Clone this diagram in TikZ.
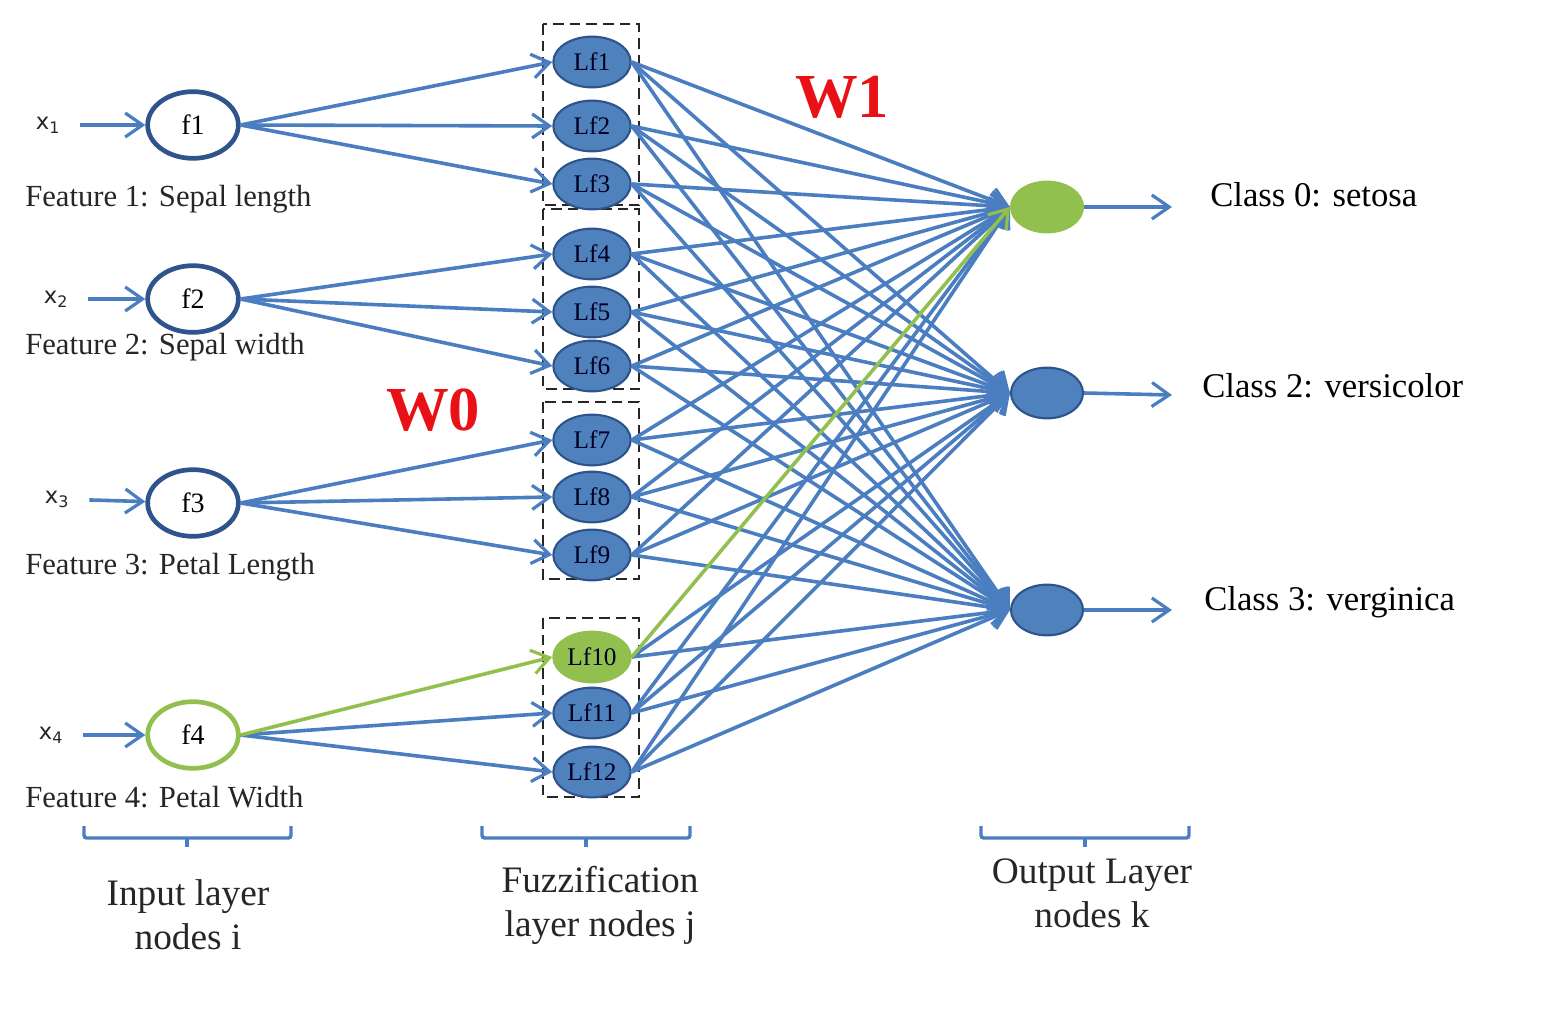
\documentclass[tikz,border=0pt]{standalone}
\usepackage{fontspec}
\setmainfont{Liberation Serif}
\setsansfont{DejaVu Sans}
\usepackage{tikz}
\usetikzlibrary{arrows.meta,shapes,positioning}

\definecolor{lineblue}{RGB}{74,126,192}
\definecolor{nodeblue}{RGB}{79,129,189}
\definecolor{edgeblue}{RGB}{47,84,140}
\definecolor{leafgreen}{RGB}{146,192,78}
\definecolor{wred}{RGB}{232,18,22}

\begin{document}
\begin{tikzpicture}[x=0.75pt,y=0.75pt,yscale=-1,xscale=1,
  link/.style={draw=lineblue,line width=2.7pt,-{Straight Barb[length=13pt,width=18pt,line width=2.4pt]}},
  greenlink/.style={link,draw=leafgreen},
  feat/.style={ellipse,draw=edgeblue,line width=3.5pt,minimum width=68pt,minimum height=50pt,inner sep=0pt,font=\fontsize{21}{24}\selectfont},
  fuzz/.style={ellipse,fill=nodeblue,draw=edgeblue,line width=1.6pt,minimum width=58pt,minimum height=38pt,inner sep=0pt,text=black!85!blue,font=\fontsize{19}{22}\selectfont},
  outn/.style={ellipse,fill=nodeblue,draw=edgeblue,line width=1.6pt,minimum width=54pt,minimum height=38pt,inner sep=0pt},
  label/.style={font=\fontsize{23}{26}\selectfont,text=black!85,anchor=west,inner sep=0pt},
  xlab/.style={font=\sffamily\fontsize{17}{19}\selectfont,text=black!85,inner sep=0pt},
  classlab/.style={font=\fontsize{26}{30}\selectfont,anchor=west,inner sep=0pt},
  layerlab/.style={font=\fontsize{28}{33}\selectfont,align=center,text=black!85,inner sep=0pt},
  group/.style={draw=black!85,line width=1.5pt,dash pattern=on 8pt off 4.5pt},
  brace/.style={draw=lineblue,line width=2.6pt,rounded corners=2pt},
  wlab/.style={font=\bfseries\fontsize{47}{50}\selectfont,text=wred,inner sep=0pt}]
\path[use as bounding box] (0,0) rectangle (1550,1020);

% Groups of the fuzzification layer
\draw[group] (543,24) rectangle (639,205);
\draw[group] (543,209) rectangle (639,389);
\draw[group] (543,402) rectangle (639,579);
\draw[group] (543,618) rectangle (639,797);

% Input layer
\node[feat] (f1) at (193,125) {f1};
\node[feat] (f2) at (193,299) {f2};
\node[feat] (f3) at (193,503) {f3};
\node[feat,draw=leafgreen] (f4) at (193,735) {f4};

\node[xlab] (x1) at (48,125) {x\textsubscript{1}};
\node[xlab] (x2) at (56,299) {x\textsubscript{2}};
\node[xlab] (x3) at (57,499) {x\textsubscript{3}};
\node[xlab] (x4) at (51,735) {x\textsubscript{4}};

\foreach \i in {1,...,4}
  \draw[link,shorten <=15pt] (x\i) -- (f\i);

\node[label] (t1) at (25,199) {Feature 1: Sepal length};
\node[label] (t2) at (25,347) {Feature 2: Sepal width};
\node[label] (t3) at (25,567) {Feature 3: Petal Length};
\node[label] (t4) at (25,797) {Feature 4: Petal Width};

% Fuzzification layer
\foreach \j/\y in {1/62,2/126,3/184,4/254,5/312,6/366,7/440,8/497,9/555,11/713,12/772}
  \node[fuzz] (lf\j) at (592,\y) {Lf\j};
\node[fuzz,fill=leafgreen,draw=leafgreen] (lf10) at (592,657) {Lf10};

% Output layer
\node[outn,fill=leafgreen,draw=leafgreen] (o1) at (1047,207) {};
\node[outn] (o2) at (1047,393) {};
\node[outn] (o3) at (1047,610) {};

% Input to fuzzification
\foreach \i in {1,2,3}
  \foreach \m in {1,2,3} {
    \pgfmathtruncatemacro{\j}{3*(\i-1)+\m}
    \draw[link] (f\i.east) -- (lf\j.west);
  }
\draw[link] (f4.east) -- (lf11.west);
\draw[link] (f4.east) -- (lf12.west);
\draw[greenlink] (f4.east) -- (lf10.west);

% Fuzzification to output
\foreach \j in {1,...,12}
  \foreach \k in {1,2,3} {
    \ifnum\j\k=101\else
      \draw[link] (lf\j.east) -- (o\k.west);
    \fi
  }
\draw[greenlink] (lf10.east) -- (o1.west);

% Classes
\coordinate (c1) at (1172,207);
\coordinate (c2) at (1172,395);
\coordinate (c3) at (1172,610);
\foreach \k in {1,2,3}
  \draw[link] (o\k.east) -- (c\k);
\node[classlab] (k1) at (1210,195) {Class 0: setosa};
\node[classlab] (k2) at (1202,386) {Class 2: versicolor};
\node[classlab] (k3) at (1204,602) {Class 3: verginica};

% Weights
\node[wlab] (w1) at (842,97) {W1};
\node[wlab] (w0) at (433,410) {W0};

% Braces
\draw[brace] (84,826) -- (84,838) -- (291,838) -- (291,826);
\draw[brace] (187,838) -- (187,847);
\draw[brace] (482,826) -- (482,838) -- (690,838) -- (690,826);
\draw[brace] (586,838) -- (586,847);
\draw[brace] (981,826) -- (981,838) -- (1189,838) -- (1189,826);
\draw[brace] (1085,838) -- (1085,847);

\node[layerlab] (l1) at (188,915) {Input layer\\nodes i};
\node[layerlab] (l2) at (600,905) {Fuzzification\\layer nodes j};
\node[layerlab] (l3) at (1092,893) {Output Layer\\nodes k};

\end{tikzpicture}
\end{document}
